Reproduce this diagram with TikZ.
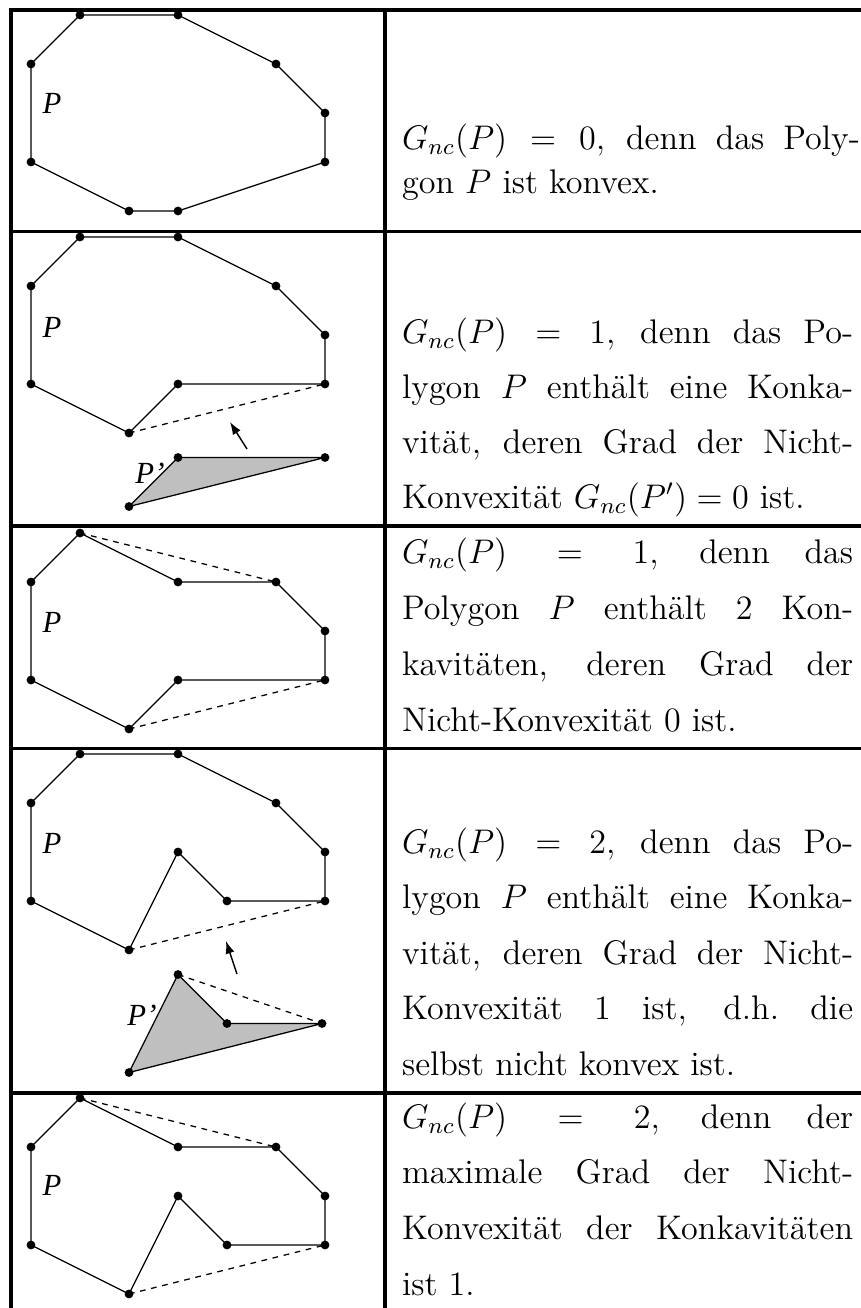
\documentclass[tikz,border=0pt]{standalone}
\usepackage{fontspec}
\newfontfamily\labfont{Liberation Serif}
\usetikzlibrary{arrows.meta}
\begin{document}
\begin{tikzpicture}[x=0.3514pt,y=-0.3514pt,
  dot/.style={circle,fill=black,inner sep=0pt,minimum size=3.1pt},
  edge/.style={line width=0.45pt},
  hull/.style={line width=0.45pt,dash pattern=on 2pt off 2pt},
  rulel/.style={line width=1.2pt},
  txt/.style={anchor=base west,inner sep=0pt,font=\fontsize{12}{14}\selectfont},
  plab/.style={inner sep=0pt,font=\labfont\itshape\fontsize{10.8}{12}\selectfont},
  arr/.style={line width=0.5pt,-{Latex[length=4.4pt,width=3.2pt]}},
  shade/.style={fill=lightgray,line width=0.45pt}]
\useasboundingbox (0,0) rectangle (861,1308);
% table rules
\draw[rulel] (861,10) -- (11,10) -- (11,1308);
\draw[rulel] (385,10) -- (385,1308);
\foreach \yy in {231.5,526,748.5,1093} \draw[rulel] (11,\yy) -- (861,\yy);

% ---------- row 1
\foreach \n/\i/\j in {a/1/0,b/3/0,c/5/1,d/6/2,e/6/3,f/3/4,g/2/4,h/0/3,i/0/1}
  \node[dot] (r1\n) at ({31+49*\i},{15+49*\j}) {};
\draw[edge] (r1a.center) -- (r1b.center) -- (r1c.center) -- (r1d.center) -- (r1e.center) -- (r1f.center) -- (r1g.center) -- (r1h.center) -- (r1i.center) -- cycle;
\node[plab] (l1) at (52,103) {P};

% ---------- row 2
\foreach \n/\i/\j in {a/1/0,b/3/0,c/5/1,d/6/2,e/6/3,f/3/3,g/2/4,h/0/3,i/0/1}
  \node[dot] (r2\n) at ({31+49*\i},{237+49*\j}) {};
\draw[edge] (r2a.center) -- (r2b.center) -- (r2c.center) -- (r2d.center) -- (r2e.center) -- (r2f.center) -- (r2g.center) -- (r2h.center) -- (r2i.center) -- cycle;
\draw[hull] (r2g.center) -- (r2e.center);
\coordinate (s2a) at (178,457.5);
\coordinate (s2b) at (325,457.5);
\coordinate (s2c) at (129,506.5);
\draw[shade] (s2a) -- (s2b) -- (s2c) -- cycle;
\foreach \n in {s2a,s2b,s2c} \node[dot] (\n d) at (\n) {};
\coordinate (a2s) at (247,449);
\coordinate (a2e) at (230,422);
\draw[arr] (a2s) -- (a2e);
\node[plab] (l2) at (52,327) {P};
\node[plab] (l2p) at (150,473) {P’};

% ---------- row 3
\foreach \n/\i/\j in {a/1/0,b/3/1,c/5/1,d/6/2,e/6/3,f/3/3,g/2/4,h/0/3,i/0/1}
  \node[dot] (r3\n) at ({31+49*\i},{533+49*\j}) {};
\draw[edge] (r3a.center) -- (r3b.center) -- (r3c.center) -- (r3d.center) -- (r3e.center) -- (r3f.center) -- (r3g.center) -- (r3h.center) -- (r3i.center) -- cycle;
\draw[hull] (r3a.center) -- (r3c.center);
\draw[hull] (r3g.center) -- (r3e.center);
\node[plab] (l3) at (52,622) {P};

% ---------- row 4
\foreach \n/\i/\j in {a/1/0,b/3/0,c/5/1,d/6/2,e/6/3,f/4/3,k/3/2,g/2/4,h/0/3,i/0/1}
  \node[dot] (r4\n) at ({31+49*\i},{754+49*\j}) {};
\draw[edge] (r4a.center) -- (r4b.center) -- (r4c.center) -- (r4d.center) -- (r4e.center) -- (r4f.center) -- (r4k.center) -- (r4g.center) -- (r4h.center) -- (r4i.center) -- cycle;
\draw[hull] (r4g.center) -- (r4e.center);
\coordinate (s4a) at (178,974.5);
\coordinate (s4b) at (227,1023.5);
\coordinate (s4c) at (322,1023.5);
\coordinate (s4d) at (129,1072.5);
\draw[shade] (s4a) -- (s4b) -- (s4c) -- (s4d) -- cycle;
\draw[hull] (s4a) -- (s4c);
\foreach \n in {s4a,s4b,s4c,s4d} \node[dot] (\n d) at (\n) {};
\coordinate (a4s) at (237,974);
\coordinate (a4e) at (226,941);
\draw[arr] (a4s) -- (a4e);
\node[plab] (l4) at (52,843) {P};
\node[plab] (l4p) at (142,1015) {P’};

% ---------- row 5
\foreach \n/\i/\j in {a/1/0,b/3/1,c/5/1,d/6/2,e/6/3,f/4/3,k/3/2,g/2/4,h/0/3,i/0/1}
  \node[dot] (r5\n) at ({31+49*\i},{1098+49*\j}) {};
\draw[edge] (r5a.center) -- (r5b.center) -- (r5c.center) -- (r5d.center) -- (r5e.center) -- (r5f.center) -- (r5k.center) -- (r5g.center) -- (r5h.center) -- (r5i.center) -- cycle;
\draw[hull] (r5a.center) -- (r5c.center);
\draw[hull] (r5g.center) -- (r5e.center);
\node[plab] (l5) at (52,1185) {P};

% ---------- texts
\node[txt] (t1a) at (401.5,149) {\makebox[160.9pt][s]{$G_{nc}(P) = 0$, denn das Poly-}};
\node[txt] (t1b) at (401.5,193) {gon $P$ ist konvex.};

\node[txt] (t2a) at (401.5,343) {\makebox[158.5pt][s]{$G_{nc}(P) = 1$, denn das Po-}};
\node[txt] (t2b) at (401.5,398) {\makebox[158.5pt][s]{lygon $P$ enthält eine Konka-}};
\node[txt] (t2c) at (401.5,453) {\makebox[158.5pt][s]{vität, deren Grad der Nicht-}};
\node[txt] (t2d) at (401.5,508) {Konvexität $G_{nc}(P') = 0$ ist.};

\node[txt] (t3a) at (401.5,563) {\makebox[158.5pt][s]{$G_{nc}(P) = 1$, denn das}};
\node[txt] (t3b) at (401.5,619) {\makebox[158.5pt][s]{Polygon $P$ enthält 2 Kon-}};
\node[txt] (t3c) at (401.5,675) {\makebox[158.5pt][s]{kavitäten, deren Grad der}};
\node[txt] (t3d) at (401.5,731) {Nicht-Konvexität 0 ist.};

\node[txt] (t4a) at (401.5,853) {\makebox[158.5pt][s]{$G_{nc}(P) = 2$, denn das Po-}};
\node[txt] (t4b) at (401.5,908) {\makebox[158.5pt][s]{lygon $P$ enthält eine Konka-}};
\node[txt] (t4c) at (401.5,964) {\makebox[158.5pt][s]{vität, deren Grad der Nicht-}};
\node[txt] (t4d) at (401.5,1019) {\makebox[158.5pt][s]{Konvexität 1 ist, d.h.\ die}};
\node[txt] (t4e) at (401.5,1075) {selbst nicht konvex ist.};

\node[txt] (t5a) at (401.5,1128) {\makebox[158.5pt][s]{$G_{nc}(P) = 2$, denn der}};
\node[txt] (t5b) at (401.5,1183) {\makebox[158.5pt][s]{maximale Grad der Nicht-}};
\node[txt] (t5c) at (401.5,1239) {\makebox[158.5pt][s]{Konvexität der Konkavitäten}};
\node[txt] (t5d) at (401.5,1295) {ist 1.};
\end{tikzpicture}
\end{document}
